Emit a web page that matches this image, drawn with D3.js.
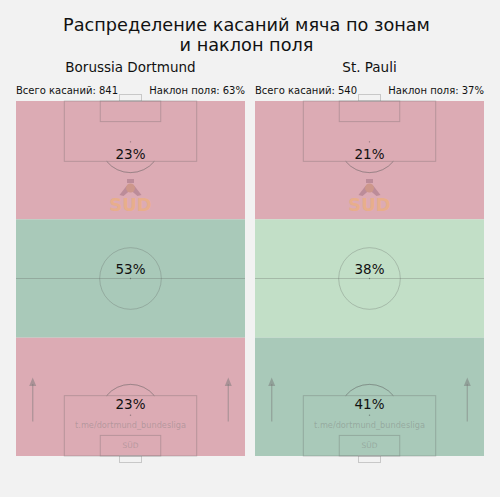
<!DOCTYPE html>
<html><head><meta charset="utf-8">
<script src="https://cdn.jsdelivr.net/npm/d3@7"></script>
<style>body{margin:0;background:#f2f2f2;}svg{display:block;}text{font-family:"DejaVu Sans",sans-serif;}</style>
</head><body>
<script>
const titleLines = ["Распределение касаний мяча по зонам", "и наклон поля"];
const teams = ["Borussia Dortmund", "St. Pauli"];
const totalTouches = [841, 540];
const fieldTilt = [63, 37];
const zoneNames = ["attacking", "middle", "defensive"];
const dortmundZones = [23, 53, 23];
const stpauliZones = [21, 38, 41];
const zoneValues = [dortmundZones, stpauliZones];

const W = 500, H = 497;
const svg = d3.select("body").append("svg").attr("width", W).attr("height", H);
svg.append("rect").attr("width", W).attr("height", H).attr("fill", "#f2f2f2");

svg.selectAll("text.title").data(titleLines).join("text")
  .attr("x", 246.5).attr("y", (d, i) => 31 + i * 20)
  .attr("text-anchor", "middle").attr("font-size", 17.7).attr("fill", "#111")
  .text(d => d);

const color = d3.scaleThreshold().domain([30, 40]).range(["#dcabb4", "#c2dfc7", "#a9c9b9"]);
const lineCol = "rgba(90,90,90,0.28)";

const panels = [{x0: 16, x1: 245}, {x0: 255, x1: 484}];
const pTop = 101, pBottom = 456;

panels.forEach((p, t) => {
  const g = svg.append("g");
  const cx = (p.x0 + p.x1) / 2;
  const x = d3.scaleLinear().domain([0, 100]).range([p.x0, p.x1]);
  const y = d3.scaleLinear().domain([0, 100]).range([pTop, pBottom]);
  const zone = d3.scaleBand().domain(zoneNames).range([pTop, pBottom]);
  const r = 9.15 / 68 * (p.x1 - p.x0);

  g.append("text").attr("x", cx).attr("y", 72).attr("text-anchor", "middle")
    .attr("font-size", 13.5).attr("fill", "#111").text(teams[t]);
  g.append("text").attr("x", p.x0).attr("y", 93.5).attr("font-size", 10).attr("fill", "#111")
    .text("Всего касаний: " + totalTouches[t]);
  g.append("text").attr("x", p.x1).attr("y", 93.5).attr("text-anchor", "end").attr("font-size", 10).attr("fill", "#111")
    .text("Наклон поля: " + fieldTilt[t] + "%");

  g.selectAll("rect.zone").data(zoneValues[t]).join("rect")
    .attr("x", p.x0).attr("width", p.x1 - p.x0)
    .attr("y", (d, i) => zone(zoneNames[i])).attr("height", zone.bandwidth())
    .attr("fill", d => color(d));

  g.append("rect").attr("x", x(45.2)).attr("y", pTop - 6.5).attr("width", x(54.8) - x(45.2)).attr("height", 6.5)
    .attr("fill", "none").attr("stroke", "#c8c8c8").attr("stroke-width", 1);
  g.append("rect").attr("x", x(45.2)).attr("y", pBottom).attr("width", x(54.8) - x(45.2)).attr("height", 6.5)
    .attr("fill", "none").attr("stroke", "#c8c8c8").attr("stroke-width", 1);

  const L = g.append("g").attr("fill", "none").attr("stroke", lineCol).attr("stroke-width", 1);
  L.append("line").attr("x1", p.x0).attr("x2", p.x1).attr("y1", y(50)).attr("y2", y(50));
  L.append("circle").attr("cx", cx).attr("cy", y(50)).attr("r", r);
  L.append("rect").attr("x", x(21.1)).attr("y", pTop).attr("width", x(78.9) - x(21.1)).attr("height", y(17) - pTop);
  L.append("rect").attr("x", x(36.8)).attr("y", pTop).attr("width", x(63.2) - x(36.8)).attr("height", y(5.8) - pTop);
  L.append("rect").attr("x", x(21.1)).attr("y", y(83)).attr("width", x(78.9) - x(21.1)).attr("height", pBottom - y(83));
  L.append("rect").attr("x", x(36.8)).attr("y", y(94.2)).attr("width", x(63.2) - x(36.8)).attr("height", pBottom - y(94.2));
  const dy = y(17) - y(11.5);
  const a = Math.acos(dy / r);
  const arc = d3.arc().innerRadius(r).outerRadius(r);
  L.append("path").attr("transform", `translate(${cx},${y(11.5)})`)
    .attr("d", arc({startAngle: Math.PI - a, endAngle: Math.PI + a}));
  L.append("path").attr("transform", `translate(${cx},${y(88.5)})`)
    .attr("d", arc({startAngle: -a, endAngle: a}));
  [11.5, 50, 88.5].forEach(v => g.append("circle").attr("cx", cx).attr("cy", y(v)).attr("r", 0.7).attr("fill", "rgba(60,60,60,0.5)"));

  [x(7.3), x(92.7)].forEach(ax => {
    g.append("line").attr("x1", ax).attr("x2", ax).attr("y1", 421.5).attr("y2", 384)
      .attr("stroke", "rgba(120,120,120,0.45)").attr("stroke-width", 1.3);
    g.append("path").attr("d", `M${ax - 3.5},${386} L${ax},${377.5} L${ax + 3.5},${386} Z`)
      .attr("fill", "rgba(120,120,120,0.5)");
  });

  const lg = g.append("g").attr("opacity", 0.6);
  lg.append("text").attr("x", cx).attr("y", 211).attr("text-anchor", "middle")
    .attr("font-size", 18).attr("font-weight", "bold").attr("fill", "#f0b070").text("SUD");
  lg.append("path").attr("d", `M${cx - 11},${195} L${cx - 4},${186} L${cx + 4},${186} L${cx + 11},${195} L${cx + 7},${196} L${cx},${190} L${cx - 7},${196} Z`)
    .attr("fill", "#a87888");
  lg.append("circle").attr("cx", cx).attr("cy", 188).attr("r", 4.5).attr("fill", "#c48a70");
  lg.append("rect").attr("x", cx - 3.5).attr("y", 179).attr("width", 7).attr("height", 4).attr("fill", "#a87888");

  g.append("text").attr("x", cx).attr("y", 428).attr("text-anchor", "middle").attr("font-size", 8.2)
    .attr("fill", "rgba(120,120,120,0.4)").text("t.me/dortmund_bundesliga");
  g.append("text").attr("x", cx).attr("y", 448).attr("text-anchor", "middle").attr("font-size", 7.5)
    .attr("fill", "rgba(120,120,120,0.4)").text("SÜD");

  const labelY = [159, 274, 409];
  g.selectAll("text.pct").data(zoneValues[t]).join("text")
    .attr("x", cx).attr("y", (d, i) => labelY[i]).attr("text-anchor", "middle")
    .attr("font-size", 13.5).attr("fill", "#111").text(d => d + "%");
});
</script>
</body></html>
